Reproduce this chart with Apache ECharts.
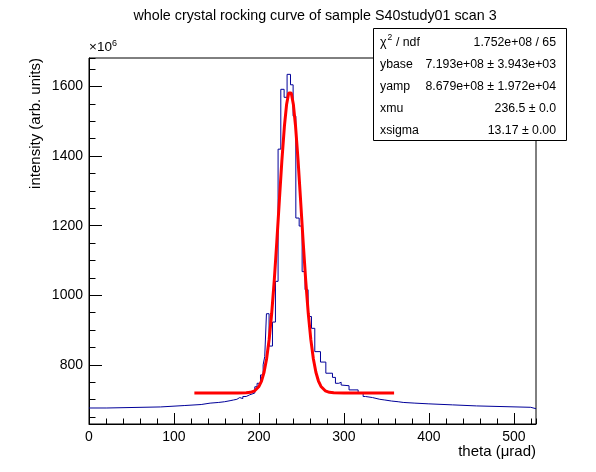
<!DOCTYPE html>
<html>
<head>
<meta charset="utf-8">
<script src="https://cdn.jsdelivr.net/npm/echarts@6/dist/echarts.min.js"></script>
<style>
  html, body { margin: 0; padding: 0; background: #fff; }
  #main { width: 596px; height: 472px; }
</style>
</head>
<body>
<div id="main"></div>
<script>
// histogram bin edges (theta, urad) and contents (x1e6)
const binEdges = [0, 21, 84, 112, 132, 142.5, 152.7, 159.6, 166, 170,
  174, 177.4, 181, 185, 189.2, 195.1, 197.8, 201.8, 204.9, 206.8,
  208.8, 211.9, 215.9, 219.4, 222.5, 225.7, 229.6, 233.1, 237.1, 240.2,
  243.4, 247.3, 250.8, 254.3, 257.8, 261.8, 265.7, 272.4, 278.7, 286.5,
  290, 294, 296.7, 299, 306, 316.7, 322.6, 325.4, 327.7, 333.6,
  342.2, 348.1, 356, 363.8, 369.7, 383.5, 399.1, 427.6, 455.9, 519.8, 526];
const binValues = [676, 679, 683, 686, 690, 692, 694, 697, 699, 701,
  706, 703, 709, 714, 719, 737, 747, 771, 800, 824,
  947, 854, 923, 1040, 1420, 1592, 1569, 1635, 1605, 1515,
  1222, 1199, 1068, 1016, 939, 905, 838, 808, 776, 764,
  747, 750, 742, 740, 728, 719, 709, 711, 706, 701,
  699, 696, 694, 692, 690, 688, 685, 682, 678, 674];

// fitted curve
const fitX = [124, 150, 175, 185, 190, 195, 200, 203, 206, 209, 212, 215, 218, 221,
  224, 227, 230, 232.5, 235, 236.5, 238, 240.5, 243, 246, 249, 252, 255, 258,
  261, 264, 267, 270, 273, 278, 283, 288, 300, 330, 359];
const fitY = [719.3, 719.3, 719.3, 719.7, 721.0, 725.4, 737.9, 753.5, 778.7, 817.4, 873.1, 948.3, 1042.9, 1153.5,
  1272.5, 1388.4, 1487.6, 1548.1, 1581.6, 1587.2, 1581.6, 1548.1, 1487.6, 1388.4, 1272.5, 1153.5, 1042.9, 948.3,
  873.1, 817.4, 778.7, 753.5, 737.9, 725.4, 721.0, 719.7, 719.3, 719.3, 719.3];

const xLabels = [0, 100, 200, 300, 400, 500];
const yLabels = [800, 1000, 1200, 1400, 1600];

const statNames = ['ybase', 'yamp', 'xmu', 'xsigma'];
const statValues = ['1.752e+08 / 65', '7.193e+08 \u00b1 3.943e+03', '8.679e+08 \u00b1 1.972e+04', '236.5 \u00b1 0.0', '13.17 \u00b1 0.00'];

const font = '"Liberation Sans", Arial, Helvetica, sans-serif';

const histData = binValues.map((v, i) => [binEdges[i], v]);
histData.push([binEdges[binEdges.length - 1], binValues[binValues.length - 1]]);
const fitData = fitX.map((x, i) => [x, fitY[i]]);

const chart = echarts.init(document.getElementById('main'), null, { renderer: 'canvas' });

const txt = (x, y, text, size, align, vAlign, extra) => Object.assign({
  type: 'text', x: x, y: y, z: 10,
  style: { text: text, fill: '#000', font: size + 'px ' + font, align: align, verticalAlign: vAlign }
}, extra || {});

// stats box texts
const statBox = [
  { type: 'rect', shape: { x: 373.5, y: 28.5, width: 193, height: 112 }, z: 9,
    style: { fill: '#fff', stroke: '#000', lineWidth: 1 } },
  txt(380, 42.5, '\u03c7', 12.5, 'left', 'middle'),
  txt(387.5, 37.5, '2', 8.5, 'left', 'middle'),
  txt(392.5, 42.5, ' / ndf', 12.3, 'left', 'middle')
];
statNames.forEach((n, i) => statBox.push(txt(380, 42.5 + 22 * (i + 1), n, 12.3, 'left', 'middle')));
statValues.forEach((v, i) => statBox.push(txt(556, 42.5 + 22 * i, v, 12.3, 'right', 'middle')));

const option = {
  animation: false,
  backgroundColor: '#fff',
  grid: { left: 89, right: 60, top: 58, bottom: 48, show: true, borderColor: '#000', borderWidth: 1 },
  xAxis: [
    { type: 'value', min: 0, max: 526, interval: 100, position: 'bottom',
      axisLine: { show: true, lineStyle: { color: '#000', width: 1 } },
      axisTick: { show: true, inside: true, length: 11, lineStyle: { color: '#000' } },
      axisLabel: { color: '#000', fontSize: 14, fontFamily: font, margin: 6, showMaxLabel: false,
        formatter: v => xLabels.includes(v) ? String(v) : '' },
      splitLine: { show: false } },
    { type: 'value', min: 0, max: 526, interval: 20, position: 'bottom',
      axisLine: { show: false },
      axisTick: { show: true, inside: true, length: 5.5, lineStyle: { color: '#000' } },
      axisLabel: { show: false }, splitLine: { show: false } }
  ],
  yAxis: [
    { type: 'value', min: 630, max: 1682, splitNumber: 5, position: 'left',
      axisLine: { show: true, lineStyle: { color: '#000', width: 1 } },
      axisTick: { show: true, inside: true, length: 13, lineStyle: { color: '#000' } },
      axisLabel: { color: '#000', fontSize: 14, fontFamily: font, margin: 6, showMinLabel: false, showMaxLabel: false,
        formatter: v => yLabels.includes(v) ? String(v) : '' },
      splitLine: { show: false } },
    { type: 'value', min: 630, max: 1682, splitNumber: 21, position: 'left',
      axisLine: { show: false },
      axisTick: { show: true, inside: true, length: 6.5, lineStyle: { color: '#000' } },
      axisLabel: { show: false }, splitLine: { show: false } }
  ],
  series: [
    { name: 'hist', type: 'line', step: 'end', data: histData, xAxisIndex: 0, yAxisIndex: 0,
      showSymbol: false, symbol: 'none', z: 2,
      lineStyle: { color: '#000099', width: 1 } },
    { name: 'fit', type: 'line', data: fitData, xAxisIndex: 0, yAxisIndex: 0,
      showSymbol: false, symbol: 'none', z: 3,
      lineStyle: { color: '#ff0000', width: 3 } }
  ],
  graphic: [
    txt(315, 16, 'whole crystal rocking curve of sample S40study01 scan 3', 14.3, 'center', 'middle'),
    txt(89, 54, '\u00d710', 13.5, 'left', 'bottom'),
    txt(112, 48, '6', 9, 'left', 'bottom'),
    txt(536, 452, 'theta (\u03bcrad)', 15, 'right', 'middle'),
    txt(36, 58, 'intensity (arb. units)', 15, 'right', 'middle', { rotation: Math.PI / 2 })
  ].concat(statBox)
};

chart.setOption(option);
</script>
</body>
</html>
